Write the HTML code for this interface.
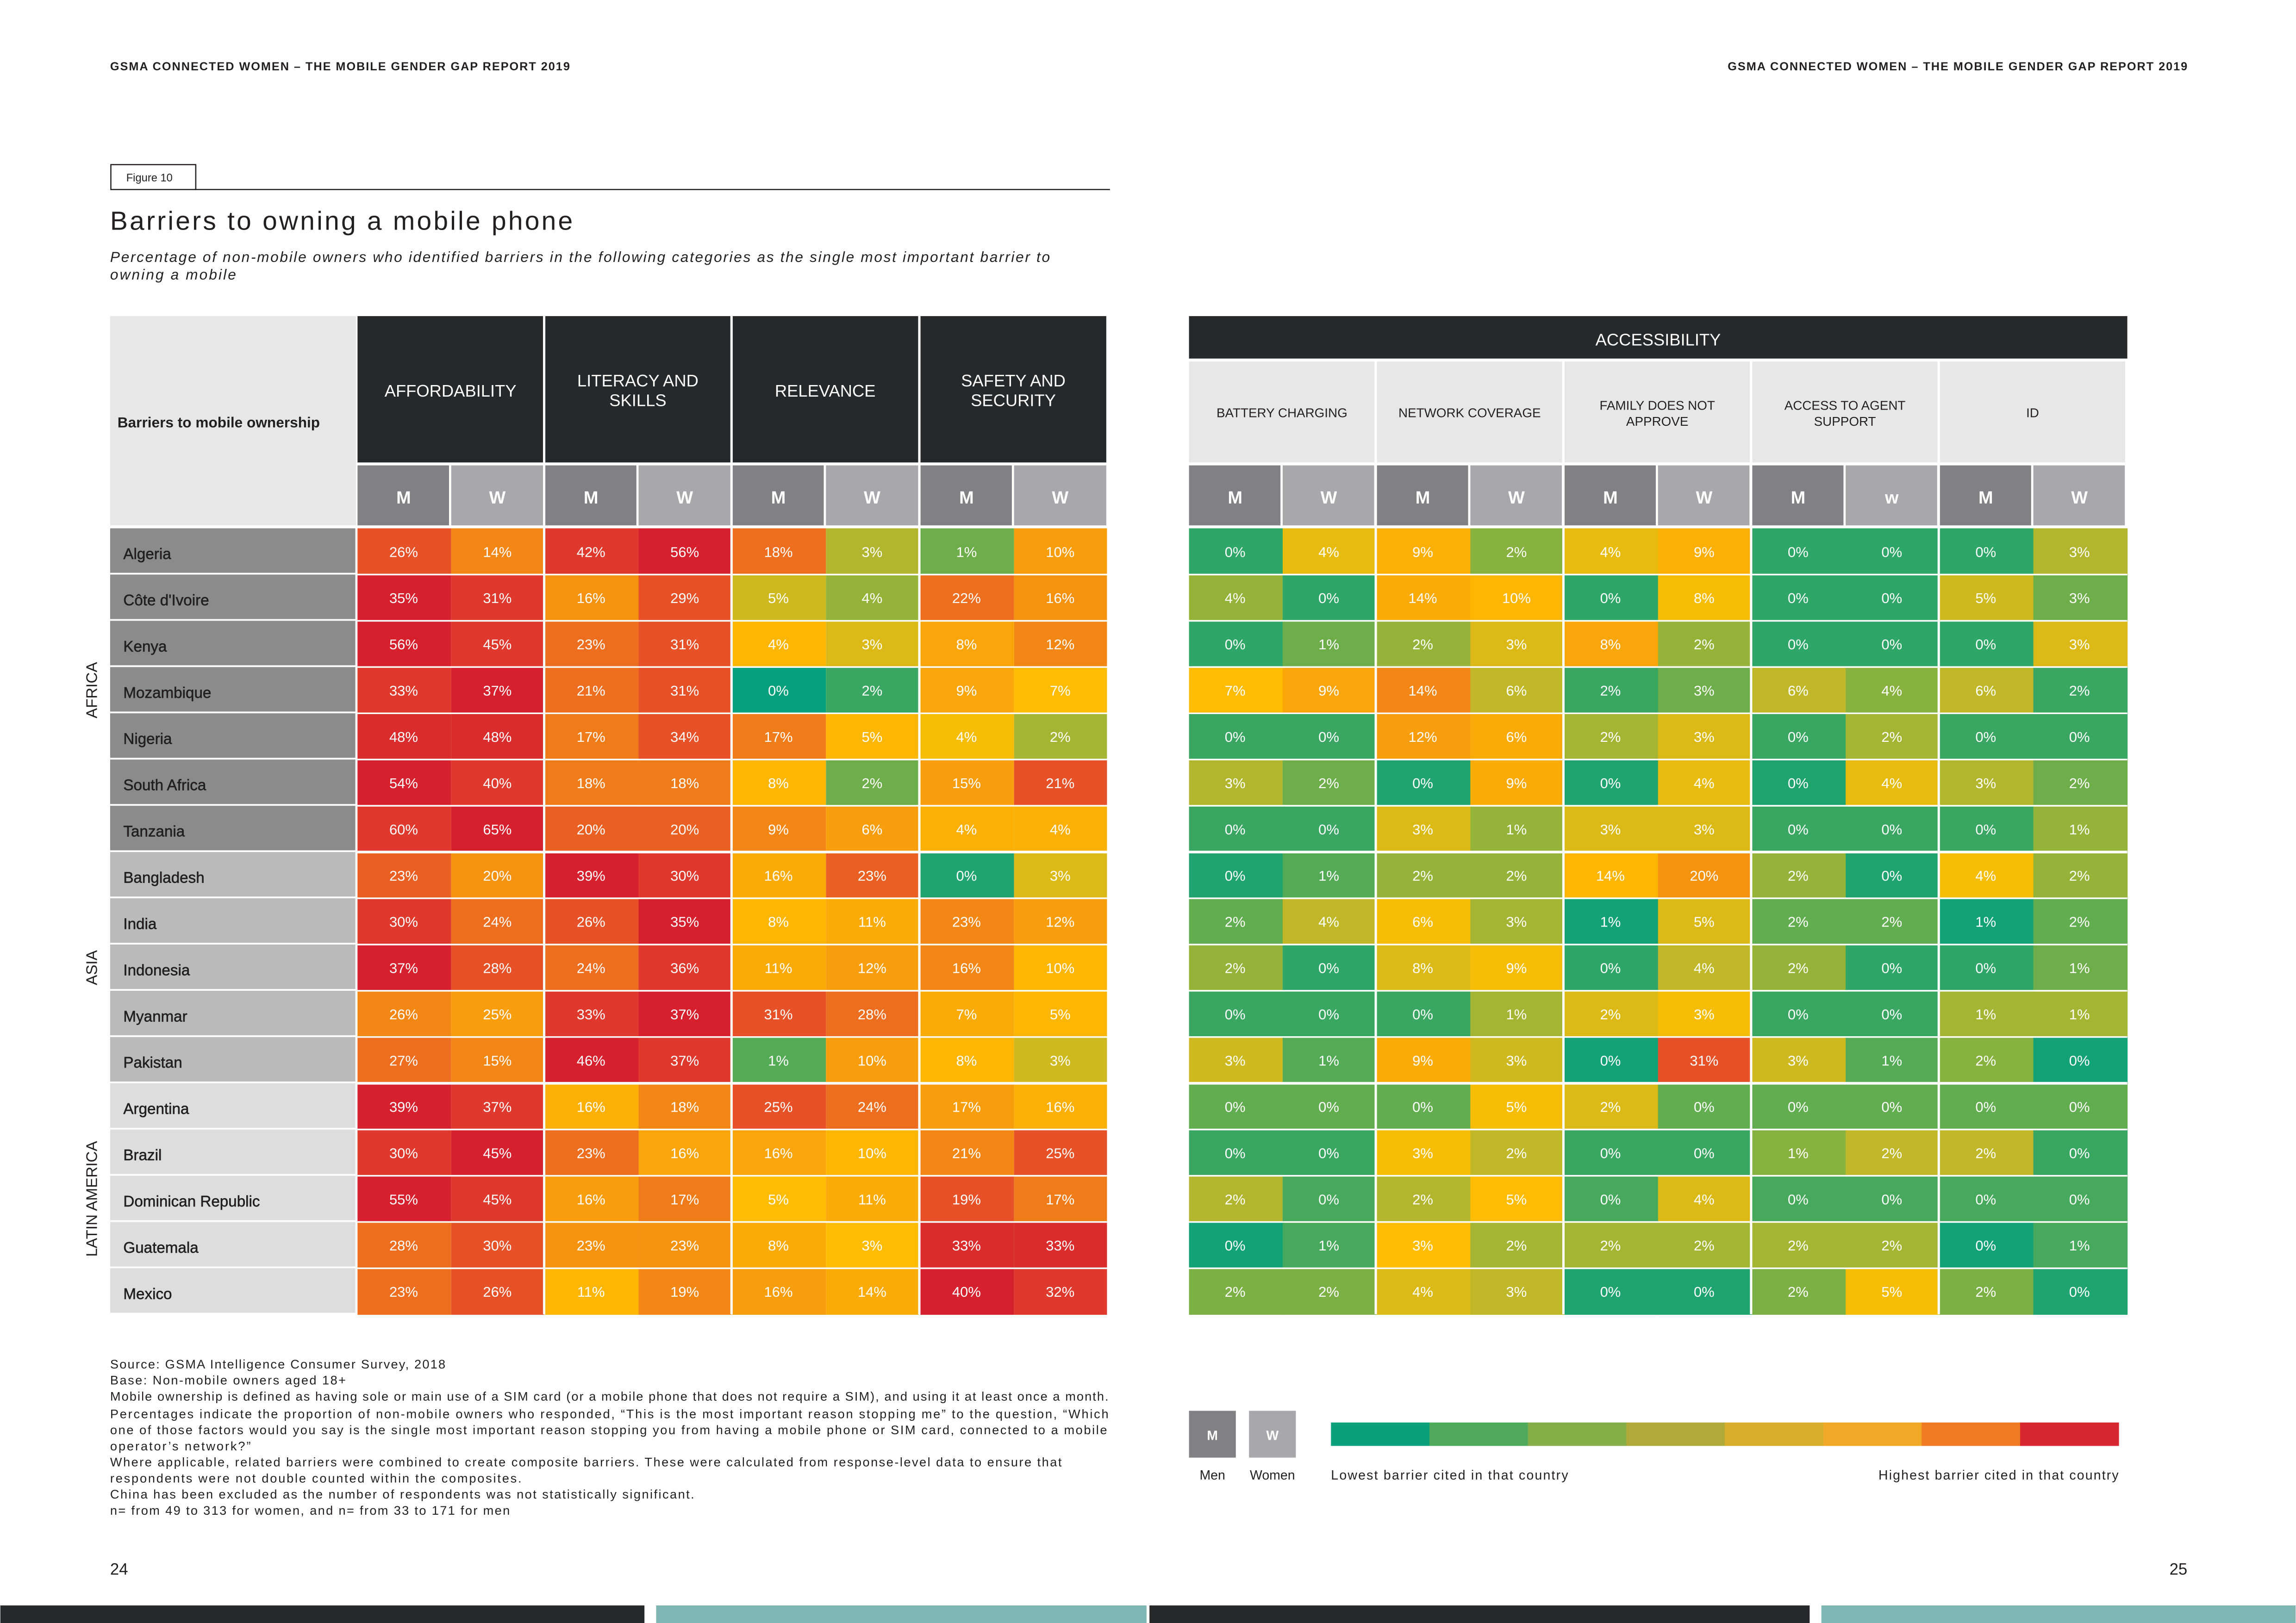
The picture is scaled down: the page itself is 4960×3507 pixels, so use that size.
<!DOCTYPE html>
<html><head><meta charset="utf-8">
<style>
html,body{margin:0;padding:0;background:#fff;}
svg{display:block;font-family:"Liberation Sans",sans-serif;}
</style></head>
<body>
<svg id="chart" xmlns="http://www.w3.org/2000/svg" width="4960" height="3507" viewBox="0 0 1568 1109">
<rect x="0" y="0" width="1568" height="1109" fill="#fff"/>
<text x="75" y="48" font-size="8" font-weight="bold" fill="#231f20" textLength="314" lengthAdjust="spacing">GSMA CONNECTED WOMEN – THE MOBILE GENDER GAP REPORT 2019</text>
<text x="1180" y="48" font-size="8" font-weight="bold" fill="#231f20" textLength="314" lengthAdjust="spacing">GSMA CONNECTED WOMEN – THE MOBILE GENDER GAP REPORT 2019</text>
<g>
<rect x="75.5" y="112.5" width="58" height="17" fill="none" stroke="#231f20" stroke-width="0.8"/>
<text x="86" y="124" font-size="7.5" fill="#231f20">Figure 10</text>
</g>
<line x1="133" y1="129.5" x2="758" y2="129.5" stroke="#231f20" stroke-width="0.8"/>
<text x="75" y="157" font-size="18" fill="#231f20" textLength="316" lengthAdjust="spacing">Barriers to owning a mobile phone</text>
<text font-size="10" font-style="italic" fill="#231f20"><tspan x="75" y="179" textLength="642" lengthAdjust="spacing">Percentage of non-mobile owners who identified barriers in the following categories as the single most important barrier to</tspan><tspan x="75" y="191" textLength="86" lengthAdjust="spacing">owning a mobile</tspan></text>

<g id="left"></g>
<g id="right"></g>

<g font-size="8.6" fill="#231f20">
<text x="75" y="935" textLength="229" lengthAdjust="spacing">Source: GSMA Intelligence Consumer Survey, 2018</text>
<text x="75" y="946" textLength="161" lengthAdjust="spacing">Base: Non-mobile owners aged 18+</text>
<text x="75" y="957" textLength="682" lengthAdjust="spacing">Mobile ownership is defined as having sole or main use of a SIM card (or a mobile phone that does not require a SIM), and using it at least once a month.</text>
<text x="75" y="969" textLength="682" lengthAdjust="spacing">Percentages indicate the proportion of non-mobile owners who responded, “This is the most important reason stopping me” to the question, “Which</text>
<text x="75" y="980" textLength="681" lengthAdjust="spacing">one of those factors would you say is the single most important reason stopping you from having a mobile phone or SIM card, connected to a mobile</text>
<text x="75" y="991" textLength="96" lengthAdjust="spacing">operator’s network?”</text>
<text x="75" y="1002" textLength="650" lengthAdjust="spacing">Where applicable, related barriers were combined to create composite barriers. These were calculated from response-level data to ensure that</text>
<text x="75" y="1013" textLength="281" lengthAdjust="spacing">respondents were not double counted within the composites.</text>
<text x="75" y="1024" textLength="399" lengthAdjust="spacing">China has been excluded as the number of respondents was not statistically significant.</text>
<text x="75" y="1035" textLength="273" lengthAdjust="spacing">n= from 49 to 313 for women, and n= from 33 to 171 for men</text>
</g>

<g>
<rect x="812" y="964" width="32" height="32" fill="#808184"/>
<text x="828" y="984" font-size="9" font-weight="bold" fill="#fff" text-anchor="middle">M</text>
<rect x="853" y="964" width="32" height="32" fill="#a6a8ab"/>
<text x="869" y="984" font-size="9" font-weight="bold" fill="#fff" text-anchor="middle">W</text>
<text x="828" y="1011" font-size="9" fill="#231f20" text-anchor="middle">Men</text>
<text x="869" y="1011" font-size="9" fill="#231f20" text-anchor="middle">Women</text>
<g id="legbar"></g>
<text x="909" y="1011" font-size="9" fill="#231f20" textLength="162" lengthAdjust="spacing">Lowest barrier cited in that country</text>
<text x="1283" y="1011" font-size="9" fill="#231f20" textLength="164" lengthAdjust="spacing">Highest barrier cited in that country</text>
</g>

<text x="75" y="1076" font-size="11" fill="#231f20">24</text>
<text x="1494" y="1076" font-size="11" fill="#231f20" text-anchor="end">25</text>
<g>
<rect x="0" y="1097" width="440" height="12" fill="#25292c"/>
<rect x="448" y="1097" width="335" height="12" fill="#7fb5b3"/>
<rect x="785" y="1097" width="451" height="12" fill="#25292c"/>
<rect x="1244" y="1097" width="324" height="12" fill="#7fb5b3"/>
</g>
</svg>
<script>
const countries = ["Algeria","Côte d'Ivoire","Kenya","Mozambique","Nigeria","South Africa","Tanzania","Bangladesh","India","Indonesia","Myanmar","Pakistan","Argentina","Brazil","Dominican Republic","Guatemala","Mexico"];
const regions = ["AFRICA","AFRICA","AFRICA","AFRICA","AFRICA","AFRICA","AFRICA","ASIA","ASIA","ASIA","ASIA","ASIA","LATIN AMERICA","LATIN AMERICA","LATIN AMERICA","LATIN AMERICA","LATIN AMERICA"];
const leftCategories = ["AFFORDABILITY","LITERACY AND|SKILLS","RELEVANCE","SAFETY AND|SECURITY"];
const rightCategories = ["BATTERY CHARGING","NETWORK COVERAGE","FAMILY DOES NOT|APPROVE","ACCESS TO AGENT|SUPPORT","ID"];
const leftValues = [
[26,14,42,56,18,3,1,10],[35,31,16,29,5,4,22,16],[56,45,23,31,4,3,8,12],[33,37,21,31,0,2,9,7],
[48,48,17,34,17,5,4,2],[54,40,18,18,8,2,15,21],[60,65,20,20,9,6,4,4],[23,20,39,30,16,23,0,3],
[30,24,26,35,8,11,23,12],[37,28,24,36,11,12,16,10],[26,25,33,37,31,28,7,5],[27,15,46,37,1,10,8,3],
[39,37,16,18,25,24,17,16],[30,45,23,16,16,10,21,25],[55,45,16,17,5,11,19,17],[28,30,23,23,8,3,33,33],
[23,26,11,19,16,14,40,32]];
const rightValues = [
[0,4,9,2,4,9,0,0,0,3],[4,0,14,10,0,8,0,0,5,3],[0,1,2,3,8,2,0,0,0,3],[7,9,14,6,2,3,6,4,6,2],
[0,0,12,6,2,3,0,2,0,0],[3,2,0,9,0,4,0,4,3,2],[0,0,3,1,3,3,0,0,0,1],[0,1,2,2,14,20,2,0,4,2],
[2,4,6,3,1,5,2,2,1,2],[2,0,8,9,0,4,2,0,0,1],[0,0,0,1,2,3,0,0,1,1],[3,1,9,3,0,31,3,1,2,0],
[0,0,0,5,2,0,0,0,0,0],[0,0,3,2,0,0,1,2,2,0],[2,0,2,5,0,4,0,0,0,0],[0,1,3,2,2,2,2,2,0,1],
[2,2,4,3,0,0,2,5,2,0]];
const legendColors = ["#0aa07b","#4faa5c","#85ad48","#b0aa3a","#d6ae2c","#f0a926","#ee7a23","#d8262e"];

const NS="http://www.w3.org/2000/svg";
function mk(parent,tag,attrs){const e=document.createElementNS(NS,tag);for(const k in attrs)e.setAttribute(k,attrs[k]);parent.appendChild(e);return e;}
const stops=[[0,[6,160,124]],[0.16,[76,170,88]],[0.3,[139,178,62]],[0.42,[196,184,38]],[0.55,[255,190,0]],[0.7,[249,160,12]],[0.8,[239,122,26]],[0.9,[228,72,42]],[1,[215,32,46]]];
function colorAt(t){for(let i=1;i<stops.length;i++){if(t<=stops[i][0]){const a=stops[i-1],b=stops[i];const f=(t-a[0])/(b[0]-a[0]);const c=a[1].map((v,j)=>Math.round(v+(b[1][j]-v)*f));return `rgb(${c[0]},${c[1]},${c[2]})`;}}return "rgb(215,32,46)";}
function rankT(all,v){let less=0,eq=0;all.forEach(x=>{if(x<v)less++;else if(x===v)eq++;});return (less+(eq-1)/2)/(all.length-1);}

const top0=361, rowH=31.6;
const rowY=i=>top0+i*rowH;
const leftX=[244,372,500,628.5], rightX=i=>812+i*128.2, sub=64;
const L=document.getElementById('left'), R=document.getElementById('right');

mk(L,'rect',{x:75,y:216,width:168,height:143,fill:'#e6e7e8'});
let t=mk(L,'text',{x:80,y:292,'font-size':10,'font-weight':'bold',fill:'#231f20'});t.textContent="Barriers to mobile ownership";


leftCategories.forEach((c,g)=>{
  const x=leftX[g];
  const r=mk(L,'rect',{x:x,y:216,width:127,height:100,fill:'#25292c'});
  
  
  const parts=c.split('|');
  parts.forEach((p,k)=>{const tx=mk(L,'text',{x:x+63.5,y:(parts.length===1?271:264)+k*13.5,'font-size':11.5,fill:'#fff','text-anchor':'middle'});tx.textContent=p;
  
  });
  ['M','W'].forEach((m,k)=>{mk(L,'rect',{x:x+k*sub,y:318,width:sub-(k?1:1.5),height:41,fill:k?'#a6a8ab':'#808184'});
    const tt=mk(L,'text',{x:x+k*sub+31.5,y:344,'font-size':12,'font-weight':'bold',fill:'#fff','text-anchor':'middle'});tt.textContent=m;
    
    });
});
const ah=mk(R,'rect',{x:812,y:216,width:641,height:29,fill:'#25292c'});


t=mk(R,'text',{x:1132.5,y:236,'font-size':11.5,fill:'#fff','text-anchor':'middle'});t.textContent="ACCESSIBILITY";
rightCategories.forEach((c,g)=>{
  const x=rightX(g);
  mk(R,'rect',{x:x,y:247,width:126.7,height:69,fill:'#e6e7e8'});
  const parts=c.split('|');
  parts.forEach((p,k)=>{const tx=mk(R,'text',{x:x+63.5,y:(parts.length===1?285:280)+k*11,'font-size':8.8,fill:'#231f20','text-anchor':'middle'});tx.textContent=p;
  
  });
  ['M',g===3?'w':'W'].forEach((m,k)=>{mk(R,'rect',{x:x+k*sub,y:318,width:sub-1.5,height:41,fill:k?'#a6a8ab':'#808184'});
    const tt=mk(R,'text',{x:x+k*sub+31.5,y:344,'font-size':12,'font-weight':'bold',fill:'#fff','text-anchor':'middle'});tt.textContent=m;
    
    });
});

const regionFill={"AFRICA":"#8a8b8d","ASIA":"#b9babc","LATIN AMERICA":"#dcdddf"};
countries.forEach((c,i)=>{
  const y=rowY(i);
  const all=leftValues[i].concat(rightValues[i]);
  const lb=mk(L,'rect',{x:75,y:y,width:167.5,height:rowH-1.2,fill:regionFill[regions[i]]});
  
  
  const lt=mk(L,'text',{x:84,y:y+21,'font-size':10.5,fill:'#231f20',stroke:'#231f20','stroke-width':0.2});lt.textContent=c;
  
  
  leftValues[i].forEach((v,j)=>{
    const x=leftX[Math.floor(j/2)]+(j%2)*sub;
    const r=mk(L,'rect',{x:x,y:y,width:sub-(j%2?0.5:0),height:rowH+0.2,fill:colorAt(rankT(all,v))});
    
    
    const tx=mk(L,'text',{x:x+31.5,y:y+19.5,'font-size':9.8,fill:'#fff','text-anchor':'middle'});tx.textContent=v+'%';
    
    
  });
  rightValues[i].forEach((v,j)=>{
    const x=rightX(Math.floor(j/2))+(j%2)*sub;
    const r=mk(R,'rect',{x:x,y:y,width:sub+0.4,height:rowH+0.2,fill:colorAt(rankT(all,v))});
    
    
    const tx=mk(R,'text',{x:x+31.5,y:y+19.5,'font-size':9.8,fill:'#fff','text-anchor':'middle'});tx.textContent=v+'%';
    
    
  });
});
[L,R].forEach((G,gi)=>{
  const xs=gi===0?[371.5,499.5,627.8]:[939.6,1067.8,1196,1324.2];
  const x0=gi===0?244:812, x1=gi===0?757:1453;
  xs.forEach(x=>mk(G,'line',{x1:x,y1:gi===0?216:247,x2:x,y2:898,stroke:'#fff','stroke-width':1.6}));
  for(let i=1;i<countries.length;i++){
    const w=(i===7||i===12)?1.8:1.1;
    mk(G,'line',{x1:x0,y1:rowY(i),x2:x1,y2:rowY(i),stroke:'#fff','stroke-width':w});
  }
});
[["AFRICA",0,7],["ASIA",7,12],["LATIN AMERICA",12,17]].forEach(([n,a,b])=>{
  const cy=(rowY(a)+rowY(b))/2;
  const tx=mk(L,'text',{x:0,y:0,'font-size':10.5,fill:'#231f20','text-anchor':'middle',transform:`translate(66,${cy}) rotate(-90)`});tx.textContent=n;
  
  
});
const LB=document.getElementById('legbar');
const segW=(1447-909)/legendColors.length;
legendColors.forEach((c,k)=>{
  const r=mk(LB,'rect',{x:909+k*segW,y:972,width:segW+0.3,height:16,fill:c});
  
  
});
</script>
</body></html>
